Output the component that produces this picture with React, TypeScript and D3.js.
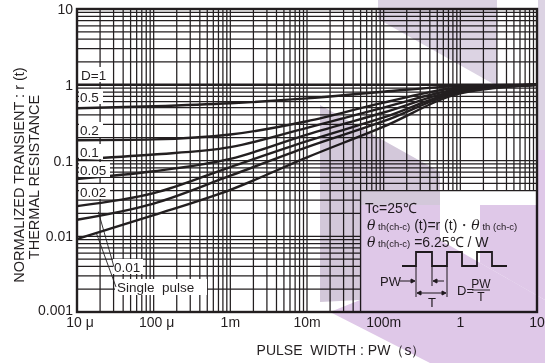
import React from "react";
import * as d3 from "d3";

// Pulse widths (s) at which the curves are sampled
const pulseWidths = [1e-5, 1e-4, 1e-3, 1e-2, 1e-1, 1, 10];

// Normalized transient thermal resistance r(t) for each duty cycle
const dutyLabels = ["0.5", "0.2", "0.1", "0.05", "0.02", "0.01", "Single  pulse"];
const r_D05 = [0.49, 0.52, 0.57, 0.66, 0.81, 0.96, 1.0];
const r_D02 = [0.185, 0.19, 0.22, 0.33, 0.58, 0.92, 1.0];
const r_D01 = [0.104, 0.12, 0.15, 0.27, 0.5, 0.88, 1.0];
const r_D005 = [0.057, 0.072, 0.105, 0.22, 0.43, 0.85, 1.0];
const r_D002 = [0.025, 0.037, 0.082, 0.18, 0.37, 0.82, 1.0];
const r_D001 = [0.0165, 0.027, 0.063, 0.15, 0.33, 0.8, 1.0];
const r_single = [0.0092, 0.019, 0.041, 0.11, 0.28, 0.77, 1.0];
const seriesValues = [r_D05, r_D02, r_D01, r_D005, r_D002, r_D001, r_single];

// D = 1 is flat at r(t) = 1
const r_D1 = [1, 1];
const d1Widths = [1e-5, 10];

// Axis ticks
const xTickValues = [1e-5, 1e-4, 1e-3, 1e-2, 1e-1, 1, 10];
const xTickLabels = ["10 μ", "100 μ", "1m", "10m", "100m", "1", "10"];
const yTickValues = [0.001, 0.01, 0.1, 1, 10];
const yTickLabels = ["0.001", "0.01", "0.1", "1", "10"];

// Inset area (no grid inside)
const insetX = [0.05, 10];
const insetY = [0.001, 0.04];

const W = 545;
const H = 363;
const FONT = "'Liberation Sans', Arial, Helvetica, sans-serif";
const INK = "#231f20";

function minorTicks(lo: number, hi: number) {
  const out: number[] = [];
  for (let e = Math.round(Math.log10(lo)); e < Math.round(Math.log10(hi)); e++) {
    for (let m = 1; m <= 9; m++) out.push(m * Math.pow(10, e));
  }
  out.push(hi);
  return out;
}

export default function App() {
  const x = d3.scaleLog().domain([1e-5, 10]).range([77, 537]);
  const y = d3.scaleLog().domain([1e-3, 10]).range([312, 9]);

  const gx = minorTicks(1e-5, 10);
  const gy = minorTicks(1e-3, 10);

  const ix0 = x(insetX[0]);
  const iy0 = y(insetY[1]);

  const line = d3
    .line<[number, number]>()
    .x((d) => x(d[0]))
    .y((d) => y(d[1]))
    .curve(d3.curveMonotoneX);

  const labelY = [97, 130, 152, 170, 192];
  const labelW = [21, 21, 21, 28, 28];

  return (
    <svg
      width={W}
      height={H}
      style={{ position: "absolute", left: 0, top: 0, background: "#fff" }}
      fontFamily={FONT}
    >
      <defs>
        <clipPath id="gridClip">
          <path d={`M77,9H537V${iy0}H${ix0}V312H77Z`} />
        </clipPath>
      </defs>

      {/* grid */}
      <g clipPath="url(#gridClip)" stroke={INK} strokeWidth={1.25}>
        {gx.map((v, i) => (
          <line key={"gx" + i} x1={x(v)} x2={x(v)} y1={9} y2={312} />
        ))}
        {gy.map((v, i) => (
          <line key={"gy" + i} x1={77} x2={537} y1={y(v)} y2={y(v)} />
        ))}
      </g>
      {/* inset border */}
      <path d={`M${ix0},312V${iy0}H537`} fill="none" stroke={INK} strokeWidth={1.3} />

      {/* curves */}
      <g fill="none" stroke={INK} strokeWidth={2.4}>
        <path d={line(d1Widths.map((w, i) => [w, r_D1[i]]) as [number, number][]) || ""} />
        {seriesValues.map((vals, k) => (
          <path
            key={"s" + k}
            d={line(pulseWidths.map((w, i) => [w, vals[i]]) as [number, number][]) || ""}
          />
        ))}
      </g>

      {/* frame */}
      <rect x={77} y={9} width={460} height={303} fill="none" stroke={INK} strokeWidth={2.4} />

      {/* curve labels */}
      <g fontSize={13.5} fill={INK}>
        <rect x={80} y={67} width={31} height={15} fill="#fff" />
        <text x={81} y={80}>D=1</text>
        {dutyLabels.slice(0, 5).map((t, i) => (
          <g key={"l" + i}>
            <rect x={79} y={labelY[i] - 8} width={labelW[i] + 3} height={15} fill="#fff" />
            <text x={80} y={labelY[i] + 5}>{t}</text>
          </g>
        ))}
        <rect x={113} y={259} width={30} height={15} fill="#fff" />
        <text x={114} y={271.5}>{dutyLabels[5]}</text>
        <rect x={115} y={279} width={92} height={16} fill="#fff" />
        <text x={117} y={292} style={{ whiteSpace: "pre" }}>{dutyLabels[6]}</text>
      </g>
      <g stroke={INK} strokeWidth={0.9}>
        <line x1={x(1.9e-5)} y1={y(0.021)} x2={114} y2={267} />
        <line x1={x(1.8e-5)} y1={y(0.0108)} x2={116} y2={287} />
      </g>

      {/* y ticks */}
      <g fontSize={14} fill={INK} textAnchor="end">
        {yTickValues.map((v, i) => (
          <text key={"yt" + i} x={73} y={y(v) - (i === 0 ? 2 : 0)} dy="0.36em">
            {yTickLabels[i]}
          </text>
        ))}
      </g>
      {/* x ticks */}
      <g fontSize={14} fill={INK} textAnchor="middle">
        {xTickValues.map((v, i) => (
          <text key={"xt" + i} x={x(v) + (i < 2 ? 3 : 0)} y={327}>
            {xTickLabels[i]}
          </text>
        ))}
      </g>

      {/* axis titles */}
      <text x={341} y={355} fontSize={14} textAnchor="middle" fill={INK} style={{ whiteSpace: "pre" }}>
        PULSE  WIDTH : PW（s）
      </text>
      <g fontSize={14.5} fill={INK} textAnchor="middle">
        <text transform="translate(24,175) rotate(-90)">NORMALIZED  TRANSIENT : r (t)</text>
        <text transform="translate(38.5,177) rotate(-90)">THERMAL  RESISTANCE</text>
      </g>

      {/* inset text */}
      <g fill={INK}>
        <text x={365} y={213} fontSize={14}>Tc=25℃</text>
        <text x={367} y={230} fontSize={14}>
          <tspan fontFamily="'DejaVu Serif', serif" fontStyle="italic">θ</tspan>
          <tspan fontSize={9.5}> th(ch-c)</tspan>
          <tspan> (t)=r (t)・</tspan>
          <tspan fontFamily="'DejaVu Serif', serif" fontStyle="italic">θ</tspan>
          <tspan fontSize={9.5}> th (ch-c)</tspan>
        </text>
        <text x={367} y={247} fontSize={14}>
          <tspan fontFamily="'DejaVu Serif', serif" fontStyle="italic">θ</tspan>
          <tspan fontSize={9.5}> th(ch-c)</tspan>
          <tspan> =6.25℃ / W</tspan>
        </text>
      </g>
      {/* pulse train */}
      <g fill="none" stroke={INK} strokeWidth={1.8}>
        <path d="M402,266H416V252H432V266H447V252H462V266H477V252H492V266H507" />
      </g>
      <g stroke={INK} strokeWidth={1} fill={INK}>
        <line x1={416} y1={266} x2={416} y2={297} />
        <line x1={432} y1={266} x2={432} y2={286} />
        <line x1={447} y1={266} x2={447} y2={297} />
        <line x1={400} y1={281} x2={414} y2={281} />
        <path d="M415,281l-4,-2v4z" />
        <line x1={434} y1={281} x2={444} y2={281} />
        <path d="M433,281l4,-2v4z" />
        <line x1={418} y1={293} x2={445} y2={293} />
        <path d="M417,293l4,-2v4z" />
        <path d="M446,293l-4,-2v4z" />
        <line x1={472} y1={290} x2={490} y2={290} strokeWidth={0.9} />
      </g>
      <g fill={INK} fontSize={13}>
        <text x={380} y={286}>PW</text>
        <text x={432} y={307} textAnchor="middle">T</text>
        <text x={457} y={295}>D=</text>
        <text x={481} y={288} textAnchor="middle" fontSize={12}>PW</text>
        <text x={481} y={301} textAnchor="middle" fontSize={12}>T</text>
      </g>

      {/* background watermark tint */}
      <g style={{ mixBlendMode: "multiply" }}>
        <polygon points="378,0 497,0 497,86 378,19" fill="#dcd3e3" />
        <polygon points="538,0 545,0 545,150 538,150" fill="#dcd3e3" />
        <polygon points="320,105 440,172 440,205 360,205 360,300 320,302" fill="#d3c8da" />
        <polygon points="360,205 440,205 440,240 545,300 545,363 430,363 330,312 360,300" fill="#dfc8e8" />
        <polygon points="545,150 545,300 480,263 480,205 537,205 537,150" fill="#dfc8e8" />
      </g>
    </svg>
  );
}
